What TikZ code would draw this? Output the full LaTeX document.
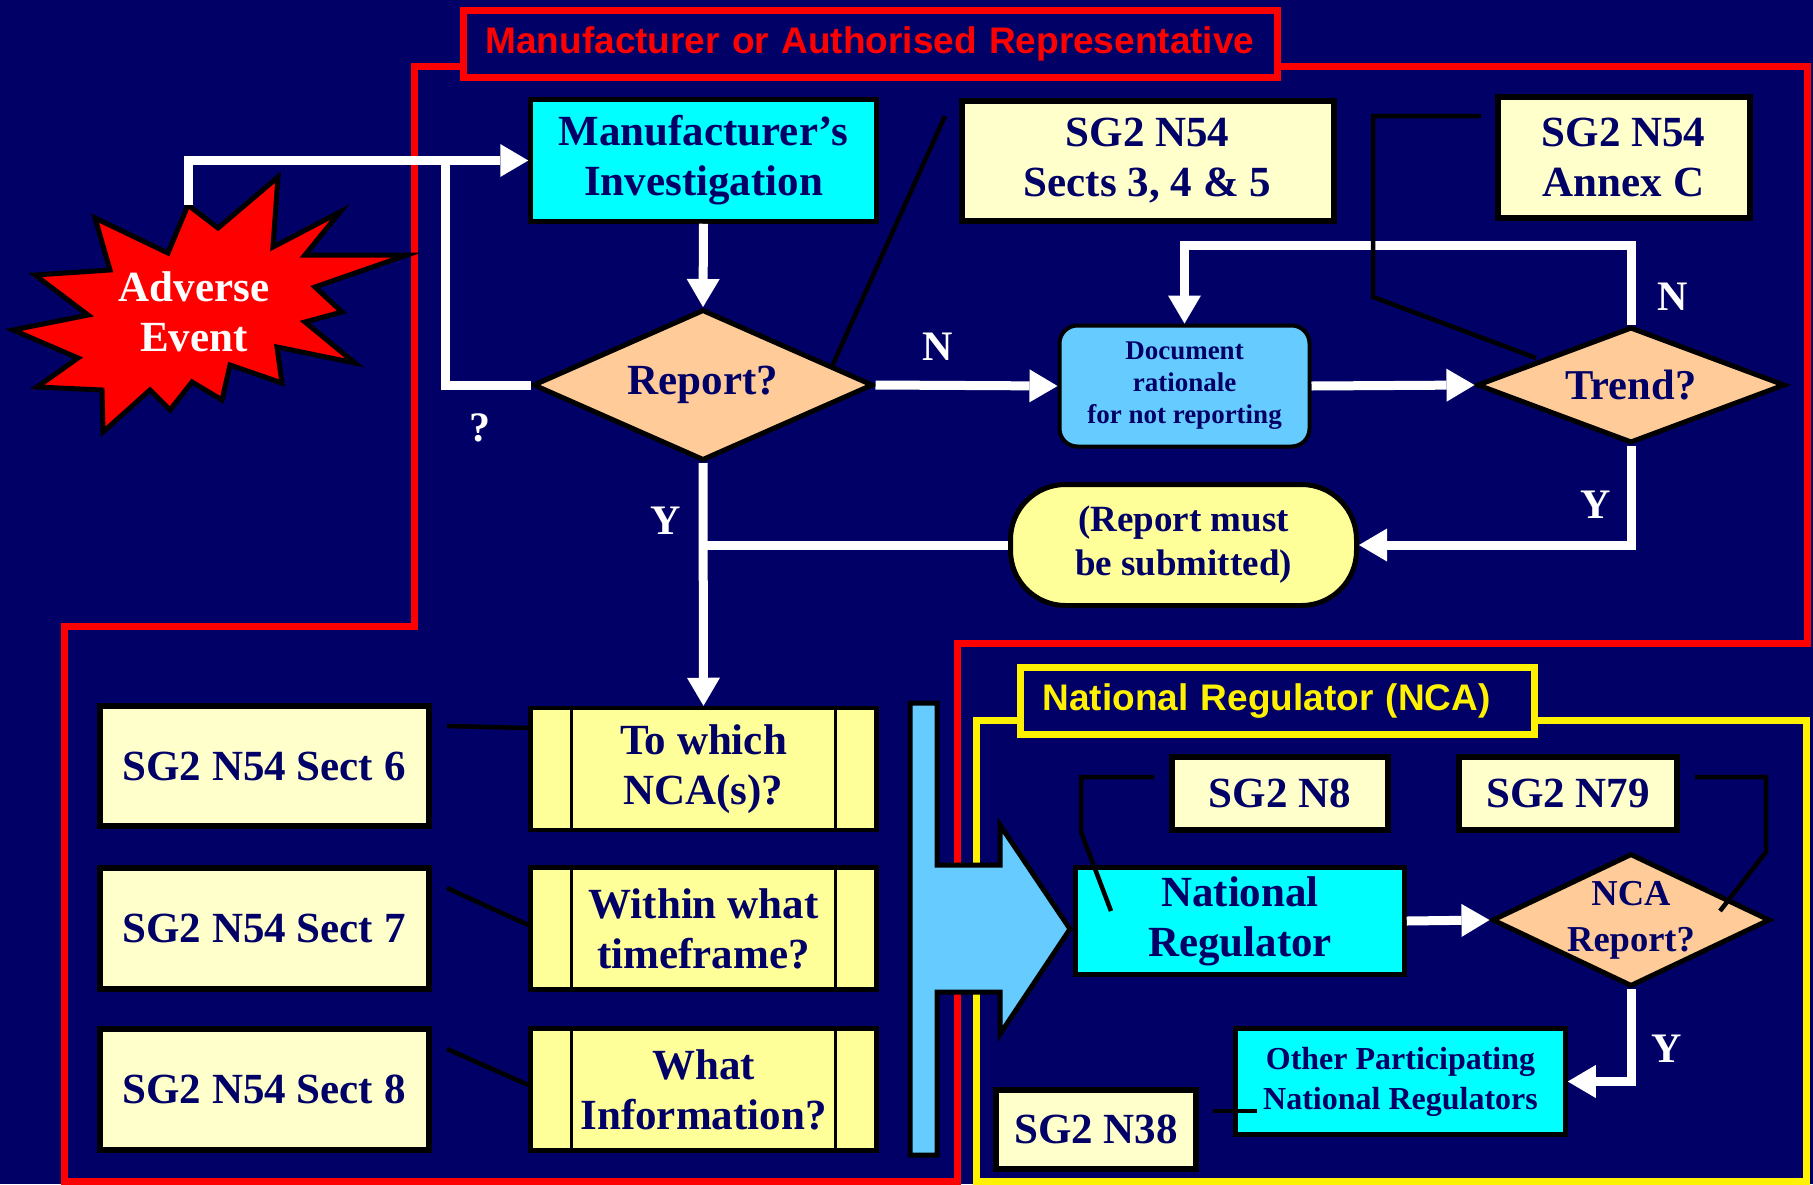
\documentclass[tikz,border=0pt]{standalone}
\usepackage{fontspec}
\setmainfont{Liberation Serif}
\newfontfamily\headfont{Liberation Sans}
\usepackage{tikz}
\usetikzlibrary{shapes.geometric}
\usetikzlibrary{arrows.meta,calc}

\definecolor{navybg}{RGB}{0,0,102}
\definecolor{cyanbox}{RGB}{0,255,255}
\definecolor{skybox}{RGB}{102,204,255}
\definecolor{creambox}{RGB}{255,255,204}
\definecolor{lemonbox}{RGB}{255,255,153}
\definecolor{peach}{RGB}{255,204,153}

\tikzset{
  refbox/.style={draw=black, line width=6pt, fill=creambox, text=navybg, align=center,
    inner sep=0pt, font=\bfseries\fontsize{43}{50}\selectfont},
  procbox/.style={refbox, line width=4.5pt, fill=cyanbox},
  askbox/.style={refbox, line width=4.5pt, fill=lemonbox, minimum width=346pt, minimum height=122pt},
  decision/.style={diamond, draw=black, line width=5pt, fill=peach, text=navybg, inner sep=0pt,
    font=\bfseries\fontsize{43}{50}\selectfont},
  headbox/.style={draw=#1, line width=7pt, fill=navybg, text=#1, inner xsep=22pt, inner ysep=0pt,
    align=left, font=\headfont\bfseries\fontsize{37}{40}\selectfont},
  flow/.style={draw=white, line width=9pt, -{Triangle[length=28pt,width=33pt,line width=0pt]}},
  flowline/.style={draw=white, line width=9pt},
  leader/.style={draw=black, line width=4.5pt},
  yn/.style={text=white, font=\bfseries\fontsize{42}{50}\selectfont},
}

\begin{document}
\begin{tikzpicture}[x=1pt,y=-1pt]
\useasboundingbox (0,0) rectangle (1813,1184);
\fill[navybg] (0,0) rectangle (1813,1184);
%%% The two frames: manufacturer (red) and national regulator (yellow)
\draw[red, line width=7pt] (414,66) -- (1807,66) -- (1807,643) -- (957,643) -- (957,1181)
  -- (64,1181) -- (64,626) -- (414,626) -- cycle;
\draw[yellow, line width=7pt] (976,720) -- (1806,720) -- (1806,1181) -- (976,1181) -- cycle;
\node[headbox=red, minimum width=814pt, minimum height=67pt, text width=770pt] (mantitle) at (870.5,44)
  {Manufacturer or Authorised Representative};
\node[headbox=yellow, minimum width=514pt, minimum height=67pt, text width=470pt] (nattitle) at (1277.5,701)
  {National Regulator (NCA)};
%%% The adverse event burst
\filldraw[fill=red, draw=black, line width=5pt] plot coordinates {(188,205) (218,228) (278,177) (273,247)
  (340,212) (305,255) (407,255) (315,287) (342,312) (305,322) (355,363) (277,347) (282,383) (230,365)
  (222,400) (192,382) (170,410) (150,390) (103,432) (102,390) (37,387) (78,358) (13,330) (88,315)
  (35,275) (110,270) (95,218) (168,253)} -- cycle;
\node[text=white, align=center, font=\bfseries\fontsize{43}{50}\selectfont] (event) at (194,312) {Adverse\\Event};
\coordinate (eventtop) at (188,205);
%%% The manufacturer's part
\node[procbox, minimum width=346pt, minimum height=122pt] (invest) at (703.5,160.5) {Manufacturer’s\\Investigation};
\node[refbox, minimum width=372pt, minimum height=120pt] (sects) at (1147.5,161) {SG2 N54\\Sects 3, 4 \& 5};
\node[refbox, minimum width=252pt, minimum height=121pt] (annex) at (1623.5,157.5) {SG2 N54\\Annex C};
\node[decision, aspect=2.25, minimum width=340pt, minimum height=151pt] (report) at (703,385) {Report?};
\node[refbox, line width=4pt, fill=skybox, rounded corners=18pt, minimum width=250pt, minimum height=121pt,
  font=\bfseries\fontsize{27}{32}\selectfont] (rationale) at (1184.5,386) {Document\\rationale\\for not reporting};
\node[decision, aspect=2.65, minimum width=308pt, minimum height=116pt, font=\bfseries\fontsize{42.5}{50}\selectfont] (trend) at (1631,385) {Trend?};
\node[refbox, line width=5pt, fill=lemonbox, rounded corners=55pt, minimum width=346pt, minimum height=121pt,
  font=\bfseries\fontsize{37}{44}\selectfont] (submit) at (1183.5,545) {(Report must\\be submitted)};
%%% The references and the questions of the report
\node[refbox, minimum width=329pt, minimum height=120pt] (sect6) at (264,766) {SG2 N54 Sect 6};
\node[refbox, minimum width=329pt, minimum height=121pt] (sect7) at (264,928) {SG2 N54 Sect 7};
\node[refbox, minimum width=329pt, minimum height=121pt] (sect8) at (264,1089.5) {SG2 N54 Sect 8};
\node[askbox] (which) at (703.5,769) {To which\\NCA(s)?};
\node[askbox] (when) at (703.5,928.5) {Within what\\timeframe?};
\node[askbox] (what) at (703.5,1089.5) {What\\Information?};
\foreach \q in {which,when,what} {
  \draw[line width=3pt] ([xshift=43pt]\q.north west) -- ([xshift=43pt]\q.south west);
  \draw[line width=3pt] ([xshift=-43pt]\q.north east) -- ([xshift=-43pt]\q.south east);
}
%%% The big arrow to the regulator
\filldraw[fill=skybox, draw=black, line width=5pt] (910,703) -- (937,703) -- (937,865) -- (1000,865)
  -- (1000,825) -- (1070,929) -- (1000,1034) -- (1000,992) -- (937,992) -- (937,1155) -- (910,1155) -- cycle;
%%% The regulator's part
\node[procbox, minimum width=329pt, minimum height=107pt] (natreg) at (1240,921) {National\\Regulator};
\node[decision, aspect=2.1, minimum width=278pt, minimum height=133pt] (ncarep) at (1631,920) {};
\node[text=navybg, align=center, font=\bfseries\fontsize{36.5}{46}\selectfont] (ncatext) at (ncarep) {NCA\\Report?};
\node[refbox, minimum width=216pt, minimum height=73pt] (n8) at (1280,793.5) {SG2 N8};
\node[refbox, minimum width=218pt, minimum height=73pt] (n79) at (1568,793.5) {SG2 N79};
\node[procbox, minimum width=330pt, minimum height=106pt, font=\bfseries\fontsize{32}{40}\selectfont] (others) at (1400.5,1081.5)
  {Other Participating\\National Regulators};
\node[refbox, minimum width=200pt, minimum height=79pt] (n38) at (1096,1129.5) {SG2 N38};
%%%%%% The flow
\coordinate (qjoin) at (445,160.5);
\coordinate (yjoin) at (703,545);
\draw[flow] (eventtop) |- (invest.west);
\draw[flowline] (report.west) -| (qjoin);
\draw[flow] (invest.south) -- (report.north);
\draw[flow] (report.east) -- (rationale.west);
\draw[flow] (rationale.east) -- (trend.west);
\draw[flow] (trend.north) -- ++(0,-79) -| (rationale.north);
\draw[flow] (trend.south) |- (submit.east);
\draw[flowline] (submit.west) -- (yjoin);
\draw[flow] (report.south) -- (which.north);
\draw[flow] (natreg.east) -- (ncarep.west);
\draw[flow] (ncarep.south) |- (others.east);
\node[yn] (qlbl) at (480,428) {?};
\node[yn] (nlbl) at (938,347) {N};
\node[yn] (trendn) at (1673,297) {N};
\node[yn] (trendy) at (1596,505) {Y};
\node[yn] (reporty) at (666,521) {Y};
\node[yn] (ncay) at (1667,1049) {Y};
%%%%%% The leaders to the guidance documents
\coordinate (sectsend) at (945,116);
\draw[leader] ($(report.east)!0.25!(report.north)$) -- (sectsend);
\draw[leader] (1536,358) -- (1373,297) -- (1373,116) -- (1481,116);
\draw[leader] (447,726) -- (which.west |- 0,728);
\draw[leader] (447,888) -- (when.west |- 0,925);
\draw[leader] (447,1049) -- (what.west |- 0,1085);
\draw[leader] (1154,777) -- (1081,777) -- (1081,832) -- (1111,911);
\draw[leader] (1695,777) -- (1766,777) -- (1766,852) -- (1720,911);
\draw[leader] (1213,1111) -- (1257,1111);
\end{tikzpicture}
\end{document}
